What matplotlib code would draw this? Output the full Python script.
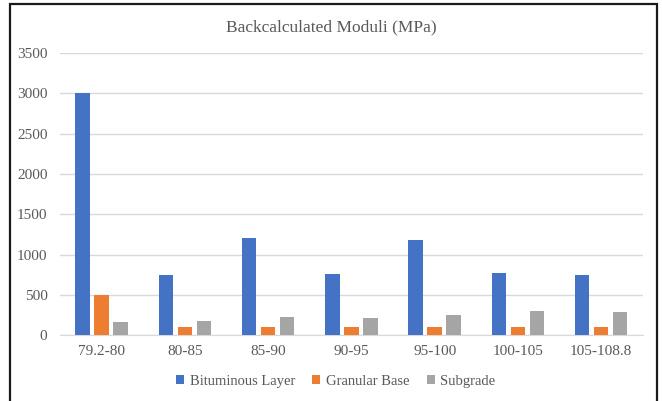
import numpy as np
import matplotlib
matplotlib.use('Agg')
import matplotlib.pyplot as plt
from matplotlib.patches import Rectangle

# --- data ---
sections = ['79.2-80', '80-85', '85-90', '90-95', '95-100', '100-105', '105-108.8']
bituminous = [3000, 750, 1200, 760, 1180, 770, 750]
granular = [500, 100, 100, 100, 100, 100, 100]
subgrade = [160, 175, 230, 215, 255, 300, 290]

series_names = ['Bituminous Layer', 'Granular Base', 'Subgrade']
series_colors = ['#4472C4', '#ED7D31', '#A5A5A5']
text_color = '#595959'

plt.rcParams['font.family'] = ['Liberation Serif', 'DejaVu Serif']

fig = plt.figure(figsize=(6.62, 4.01), dpi=100)
ax = fig.add_axes([0.0906, 0.1638, 0.8804, 0.7042])

x = np.arange(len(sections))
width = 0.174
step = 0.228
for i, (vals, name, col) in enumerate(zip([bituminous, granular, subgrade], series_names, series_colors)):
    ax.bar(x + (i - 1) * step, vals, width, color=col, label=name, zorder=3)

ax.set_xlim(-0.5, len(sections) - 0.5)
ax.set_ylim(0, 3500)
ax.set_yticks(np.arange(0, 3501, 500))
ax.set_xticks(x)
ax.set_xticklabels(sections)
ax.grid(axis='y', color='#D9D9D9', linewidth=1.0, zorder=0)
for s in ['top', 'right', 'left']:
    ax.spines[s].set_visible(False)
ax.spines['bottom'].set_color('#D9D9D9')
ax.tick_params(axis='both', length=0, labelsize=11, colors=text_color)
ax.tick_params(axis='x', pad=7)
ax.tick_params(axis='y', pad=9)

fig.text(0.5, 0.932, 'Backcalculated Moduli (MPa)', ha='center', va='center',
         fontsize=12.5, color=text_color)

leg = fig.legend(loc='center', bbox_to_anchor=(0.507, 0.049), ncol=3, frameon=False,
                 fontsize=10.5, handlelength=0.55, handleheight=0.55,
                 handletextpad=0.35, columnspacing=1.2)
for t in leg.get_texts():
    t.set_color(text_color)

# chart frame
fig.patches.append(Rectangle((9.5 / 662, -0.05), (656.5 - 9.5) / 662, 1.05 - 4 / 401,
                             transform=fig.transFigure, fill=False,
                             edgecolor='#1a1a1a', linewidth=1.6, clip_on=False))

fig.savefig('out.png', dpi=100)
